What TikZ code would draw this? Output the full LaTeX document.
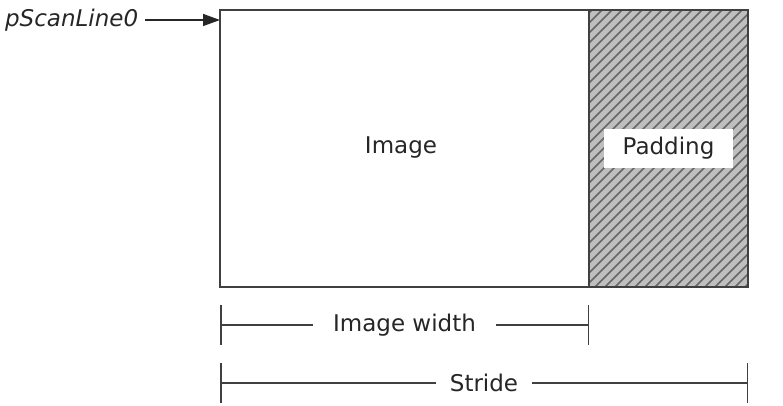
\documentclass[tikz,border=0pt]{standalone}
\usepackage{fontspec}
\setmainfont{DejaVu Sans}
\usetikzlibrary{arrows.meta,
                positioning}

\begin{document}
\begin{tikzpicture}[x=0.5pt, y=-0.5pt,
                    font=\fontsize{11.5}{13}\selectfont,
                    frame/.style={draw=black!75, line width=1pt},
                    hatch/.style={draw=black!60, line width=0.8pt},
                    dimline/.style={{Bar[width=20pt]}-{Bar[width=20pt]}, draw=black!75, line width=0.75pt},
                    dim_label/.style={midway, fill=white, text=black!85, inner ysep=2pt},
                    arrow/.style={-{Triangle[length=8.5pt,width=6pt]}, draw=black!85, line width=0.75pt}
                    ]
        \useasboundingbox (0,0) rectangle (783,406);
        % corners of the buffer
        \coordinate (topleft) at (220,10);
        \coordinate (botright) at (748,287);
        \coordinate (padtop) at (589,10);
        \coordinate (padbot) at (589,287);
        \coordinate (row0) at (220,20);

        % padding column, grey with hatching
        \fill[black!25] (padtop) rectangle (botright);
        \begin{scope}
            \clip (padtop) rectangle (botright);
            \foreach \x in {300,310,...,760} {
                \draw[hatch] (\x,292) -- ++(290,-290);
            }
        \end{scope}
        \draw[frame] (topleft) rectangle (botright);
        \draw[frame] (padtop) -- (padbot);

        \node[text=black!85] (image) at (401,148) {Image};
        \node[fill=white, text=black!85, minimum width=64.5pt, minimum height=19.5pt] (padding) at (668.5,148.5) {Padding};

        \node[anchor=west, text=black!85, font=\fontsize{11.5}{13}\selectfont\itshape] (scanline) at (-2,20) {pScanLine0};
        \draw[arrow] (scanline.east) ++(0pt,0) -- (row0);

        % widths below the buffer
        \coordinate (w0) at (220,325);
        \coordinate (w1) at (589,325);
        \coordinate (s0) at (220,383);
        \coordinate (s1) at (748,383);
        \draw[dimline] (w0) -- (w1) node[dim_label, inner xsep=10pt] {Image width};
        \draw[dimline] (s0) -- (s1) node[dim_label, inner xsep=7pt] {Stride};
    \end{tikzpicture}
\end{document}
